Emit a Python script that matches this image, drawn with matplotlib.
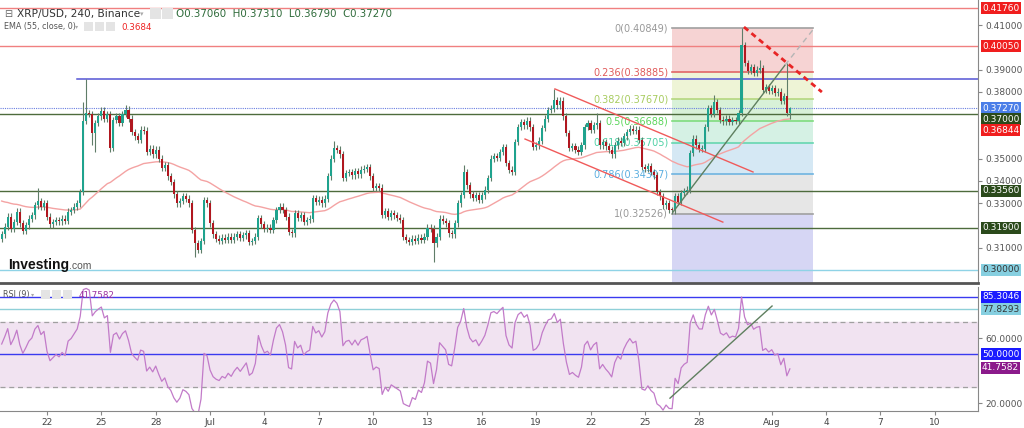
import matplotlib.pyplot as plt
import matplotlib.transforms as mtransforms
import numpy as np
import pandas as pd
from matplotlib.patches import Rectangle

# 4h candles, XRP/USD Binance
t0 = pd.Timestamp('2019-06-19 12:00')
first_open = 0.3140
close = [
    0.3160, 0.3195, 0.3240, 0.3185, 0.3215, 0.3262, 0.3210, 0.3175, 0.3200, 0.3230,
    0.3245, 0.3290, 0.3310, 0.3285, 0.3300, 0.3240, 0.3205, 0.3215, 0.3225, 0.3218,
    0.3230, 0.3222, 0.3262, 0.3270, 0.3285, 0.3300, 0.3350, 0.3670, 0.3705, 0.3700,
    0.3615, 0.3660, 0.3690, 0.3715, 0.3680, 0.3700, 0.3548, 0.3673, 0.3690, 0.3660,
    0.3700, 0.3720, 0.3680, 0.3620, 0.3600, 0.3585, 0.3630, 0.3625, 0.3530, 0.3545,
    0.3520, 0.3540, 0.3500, 0.3460, 0.3470, 0.3420, 0.3395, 0.3340, 0.3300, 0.3310,
    0.3330, 0.3320, 0.3300, 0.3180, 0.3120, 0.3090, 0.3130, 0.3314, 0.3300, 0.3210,
    0.3160, 0.3140, 0.3130, 0.3145, 0.3135, 0.3150, 0.3135, 0.3150, 0.3160, 0.3145,
    0.3155, 0.3165, 0.3125, 0.3130, 0.3150, 0.3233, 0.3205, 0.3185, 0.3190, 0.3180,
    0.3224, 0.3270, 0.3285, 0.3270, 0.3240, 0.3170, 0.3165, 0.3256, 0.3235, 0.3245,
    0.3215, 0.3225, 0.3230, 0.3322, 0.3305, 0.3315, 0.3300, 0.3320, 0.3420, 0.3500,
    0.3548, 0.3540, 0.3520, 0.3413, 0.3435, 0.3440, 0.3425, 0.3445, 0.3430, 0.3450,
    0.3455, 0.3462, 0.3420, 0.3368, 0.3375, 0.3370, 0.3247, 0.3265, 0.3240, 0.3255,
    0.3245, 0.3235, 0.3225, 0.3148, 0.3135, 0.3125, 0.3140, 0.3130, 0.3145, 0.3135,
    0.3150, 0.3190, 0.3185, 0.3120, 0.3150, 0.3230, 0.3220, 0.3210, 0.3165, 0.3160,
    0.3210, 0.3300, 0.3337, 0.3440, 0.3380, 0.3340, 0.3325, 0.3335, 0.3315, 0.3335,
    0.3360, 0.3413, 0.3500, 0.3510, 0.3505, 0.3530, 0.3552, 0.3480, 0.3450, 0.3440,
    0.3575, 0.3642, 0.3665, 0.3650, 0.3670, 0.3640, 0.3552, 0.3560, 0.3580, 0.3637,
    0.3680, 0.3718, 0.3725, 0.3763, 0.3740, 0.3760, 0.3690, 0.3615, 0.3548, 0.3555,
    0.3540, 0.3530, 0.3560, 0.3642, 0.3660, 0.3630, 0.3650, 0.3660, 0.3560, 0.3575,
    0.3555, 0.3540, 0.3520, 0.3560, 0.3580, 0.3570, 0.3600, 0.3620, 0.3635, 0.3625,
    0.3630, 0.3584, 0.3462, 0.3455, 0.3465, 0.3440, 0.3425, 0.3350, 0.3330, 0.3290,
    0.3300, 0.3270, 0.3268, 0.3330, 0.3305, 0.3345, 0.3355, 0.3360, 0.3525, 0.3590,
    0.3560, 0.3545, 0.3545, 0.3640, 0.3727, 0.3700, 0.3754, 0.3718, 0.3675, 0.3668,
    0.3680, 0.3665, 0.3672, 0.3670, 0.3705, 0.4010, 0.3930, 0.3895, 0.3910, 0.3885,
    0.3900, 0.3905, 0.3810, 0.3820, 0.3805, 0.3815, 0.3795, 0.3800, 0.3760, 0.3780,
    0.3706, 0.3727,
]
wick = 0.0015
spike_high = {12: 0.3368, 27: 0.3754, 28: 0.3858, 41: 0.3740, 110: 0.3580, 153: 0.3470,
              183: 0.3813, 197: 0.3705, 236: 0.3786, 245: 0.40849, 251: 0.3943,
              260: 0.3930, 261: 0.3731}
spike_low = {30: 0.3560, 31: 0.3530, 36: 0.3530, 64: 0.3060, 143: 0.3036,
             222: 0.32526, 260: 0.3690, 261: 0.3679}
ema_seed = 0.3315
rsi_seed_gain, rsi_seed_loss = 0.0022, 0.0019

# levels
hlines_red = [0.41760, 0.40050]
resist_blue = 0.38580
last_price = 0.37270
hlines_green = [0.37000, 0.33560, 0.31900]
support_cyan = 0.30000
ema_last = 0.36844
rsi_last = 41.7582
rsi_hi1, rsi_hi2 = 85.3046, 77.8293
price_ticks = [0.31, 0.33, 0.34, 0.35, 0.38, 0.39, 0.41]

fib_hi, fib_lo = 0.40849, 0.32526
fib_ratios = [0, 0.236, 0.382, 0.5, 0.618, 0.786, 1]
fib_line_col = ['#a0a0a0', '#e06666', '#b5d77f', '#7fdc7f', '#66d6b0', '#6fb4e0', '#a0a0a0']
fib_fill_col = ['#f6d3d3', '#eef4d6', '#d8f1d8', '#d5f1e4', '#d5e8f4', '#e6e6e6', '#d6d6f4']
fib_txt_col = ['#999999', '#e05a5a', '#a8cc60', '#5cd65c', '#4fd1a5', '#5aaee0', '#999999']

# drawn lines (candle index, price)
chan_up = [(183.2, 0.3813), (248.8, 0.3440)]
chan_dn = [(173.3, 0.3588), (238.8, 0.3215)]
res_dash = [(245.8, 0.4091), (271.6, 0.3799)]
trend = [(222.3, 0.3260), (259.4, 0.3920)]
trend_ext = [(259.4, 0.3920), (268.6, 0.4078)]
rsi_trend = [(221.3, 23.0), (255.1, 79.7)]

tick_dates = ['2019-06-22', '2019-06-25', '2019-06-28', '2019-07-01', '2019-07-04', '2019-07-07',
              '2019-07-10', '2019-07-13', '2019-07-16', '2019-07-19', '2019-07-22', '2019-07-25',
              '2019-07-28', '2019-08-01', '2019-08-04', '2019-08-07', '2019-08-10']
tick_labels = ['22', '25', '28', 'Jul', '4', '7', '10', '13', '16', '19', '22', '25', '28',
               'Aug', '4', '7', '10']

# ---- derived series
close = np.array(close)
n = len(close)
idx = np.arange(n)
opn = np.r_[first_open, close[:-1]]
hi = np.maximum(opn, close) + wick
lo = np.minimum(opn, close) - wick
for k, v in spike_high.items():
    hi[k] = v
for k, v in spike_low.items():
    lo[k] = v

ema = []
e = ema_seed
for c in close:
    e = e + 2 / 56 * (c - e)
    ema.append(e)

rsi = []
ag, al = rsi_seed_gain, rsi_seed_loss
for d in close - opn:
    ag = (ag * 8 + max(d, 0)) / 9
    al = (al * 8 + max(-d, 0)) / 9
    rsi.append(100 - 100 / (1 + ag / al))

# ---- figure
fig = plt.figure(figsize=(10.24, 4.28), dpi=100)
ax = fig.add_axes([0, 145 / 428, 978 / 1024, 283 / 428])
ax2 = fig.add_axes([0, 17 / 428, 978 / 1024, 124 / 428], sharex=ax)
xl = (-0.56, 323.3)
ax.set_xlim(*xl)
ax.set_ylim(0.29415, 0.42123)
ax2.set_ylim(15.1, 91.4)

# fibonacci box
fx0, fx1 = 221.9, 268.6
fib_p = [round(fib_hi - r * (fib_hi - fib_lo) + 1e-9, 5) for r in fib_ratios]
bounds = fib_p + [0.29415]
for j in range(len(fib_p)):
    ax.add_patch(Rectangle((fx0, bounds[j + 1]), fx1 - fx0, bounds[j] - bounds[j + 1],
                           fc=fib_fill_col[j], ec='none', zorder=1))
for r, p, lc, tc in zip(fib_ratios, fib_p, fib_line_col, fib_txt_col):
    ax.plot([fx0, fx1], [p, p], color=lc, lw=1.2, zorder=1.5)
    ax.text(fx0 - 1.2, p, f'{r:g}({p:.5f})', color=tc, fontsize=7, ha='right', va='center', zorder=2)

# horizontal levels
for p in hlines_red:
    ax.axhline(p, color='#f08080', lw=1, zorder=2)
ax.plot([24.9, xl[1]], [resist_blue, resist_blue], color='#5555d5', lw=1.1, zorder=2)
ax.axhline(last_price, color='#6a7fe0', lw=0.8, ls=(0, (1, 1)), zorder=2)
for p in hlines_green:
    ax.axhline(p, color='#4d6b3c', lw=1, zorder=2)
ax.axhline(support_cyan, color='#8fd3e6', lw=1, zorder=2)

# EMA
ax.plot(idx, ema, color='#f4a3a3', lw=1, zorder=2.5)

# candles
up = close >= opn
body_lo = np.minimum(opn, close)
body_h = np.maximum(np.abs(close - opn), 0.0004)
ax.vlines(idx, lo, hi, color='#5f7d68', lw=0.8, zorder=3)
ax.bar(idx[up], body_h[up], bottom=body_lo[up], width=0.7, color='#1fa38e', lw=0, zorder=4)
ax.bar(idx[~up], body_h[~up], bottom=body_lo[~up], width=0.7, color='#b0171f', lw=0, zorder=4)

# drawn lines
for seg in (chan_up, chan_dn):
    ax.plot(*zip(*seg), color='#f05a5a', lw=1, zorder=5)
ax.plot(*zip(*res_dash), color='#e82525', lw=2, ls=(0, (2, 1.5)), zorder=5)
ax.plot(*zip(*trend), color='#5f7f5f', lw=1, zorder=5)
ax.plot(*zip(*trend_ext), color='#b5b5b5', lw=1, ls=(0, (4, 3)), zorder=5)

# RSI panel
ax2.axhspan(30, 70, color='#f1e3f1', zorder=0)
for v in (70, 30):
    ax2.axhline(v, color='#a0a0a0', lw=0.9, ls=(0, (4, 3)))
ax2.axhline(rsi_hi1, color='#3a3af0', lw=1)
ax2.axhline(rsi_hi2, color='#8fd0d8', lw=1)
ax2.axhline(50, color='#3a3af0', lw=1)
ax2.plot(idx, rsi, color='#c27bc9', lw=0.9)
ax2.plot(*zip(*rsi_trend), color='#5f7f5f', lw=1)

# axes styling
for a in (ax, ax2):
    for s in ('left', 'top'):
        a.spines[s].set_visible(False)
    a.spines['right'].set_color('#888888')
    a.yaxis.tick_right()
    a.tick_params(axis='y', length=3, color='#888888', labelsize=6.5, labelcolor='#555555', pad=2)
ax.spines['bottom'].set_color('#555555')
ax.spines['bottom'].set_linewidth(2)
ax2.spines['bottom'].set_color('#888888')
ax.tick_params(axis='x', bottom=False, labelbottom=False)

ax.set_yticks(price_ticks)
ax.set_yticklabels([f'{v:.5f}' for v in price_ticks])
ax2.set_yticks([20, 60])
ax2.set_yticklabels(['20.0000', '60.0000'])

tick_pos = (pd.to_datetime(tick_dates) - t0) / pd.Timedelta(hours=4)
ax2.set_xticks(tick_pos)
ax2.set_xticklabels(tick_labels)
ax2.tick_params(axis='x', length=3, color='#888888', labelsize=6.5, labelcolor='#444444', pad=2)


def tag(a, y, txt, fc, tc='white', shift=0):
    tr = mtransforms.offset_copy(a.get_yaxis_transform(), fig=fig, y=-shift, units='dots')
    a.text(1.004, y, txt, transform=tr, fontsize=6.5, color=tc,
           ha='left', va='center', clip_on=False, zorder=10,
           bbox=dict(boxstyle='square,pad=0.15', fc=fc, ec='none'))


tag(ax, 0.41760, '0.41760', '#f01e1e')
tag(ax, 0.40050, '0.40050', '#f01e1e')
tag(ax, last_price, '0.37270', '#4a7ee8')
tag(ax, 0.37000, '0.37000', '#2b4a1b', shift=5)
tag(ax, ema_last, '0.36844', '#f01e1e', shift=12.5)
tag(ax, 0.33560, '0.33560', '#2b4a1b')
tag(ax, 0.31900, '0.31900', '#2b4a1b')
tag(ax, support_cyan, '0.30000', '#86cfe0', '#333333')
tag(ax2, rsi_hi1, '85.3046', '#1a1aff')
tag(ax2, rsi_hi2, '77.8293', '#86cfe0', '#333333')
tag(ax2, 50, '50.0000', '#1a1aff')
tag(ax2, rsi_last, '41.7582', '#8b1a8b')


# header texts
def px(x, y):
    return x / 1024, 1 - y / 428


fig.text(*px(4, 14), '⊟', fontsize=7, color='#666666', va='center')
fig.text(*px(17, 14), 'XRP/USD, 240, Binance', fontsize=7.6, color='#333333', va='center')
fig.text(*px(140, 14), '▾', fontsize=5, color='#aaaaaa', va='center')
fig.text(*px(176, 14), 'O0.37060  H0.37310  L0.36790  C0.37270', fontsize=7.4,
         color='#2e6b3a', va='center')
fig.text(*px(4, 27), 'EMA (55, close, 0)', fontsize=5.8, color='#555555', va='center')
fig.text(*px(75, 27), '▾', fontsize=4.5, color='#aaaaaa', va='center')
fig.text(*px(121, 27), '0.3684', fontsize=6.3, color='#ee2222', va='center')
fig.text(*px(3, 295), 'RSI (9)', fontsize=5.8, color='#555555', va='center')
fig.text(*px(31, 295), '▾', fontsize=4.5, color='#aaaaaa', va='center')
fig.text(*px(79, 295), '41.7582', fontsize=6.3, color='#9b30a0', va='center')
for xx, yy, s in ((150, 8, 11), (162, 8, 11), (84, 22, 9), (95, 22, 9), (106, 22, 9),
                  (41, 290, 9), (52, 290, 9), (63, 290, 9)):
    fig.patches.append(Rectangle(px(xx, yy + s), s / 1024, s / 428, transform=fig.transFigure,
                                 fc='#e4e4e4', ec='none'))

logo = ax.text(8 / 978, 1 - 265 / 283, 'Investing', transform=ax.transAxes, fontsize=10,
               fontweight='bold', family='Liberation Sans', color='#111111', va='center', ha='left',
               zorder=6)
ax.annotate('.com', xy=(1, 0.1), xycoords=logo, fontsize=7.5, family='Liberation Sans',
            color='#555555', va='bottom', ha='left', zorder=6)

fig.savefig('out.png', dpi=100)
